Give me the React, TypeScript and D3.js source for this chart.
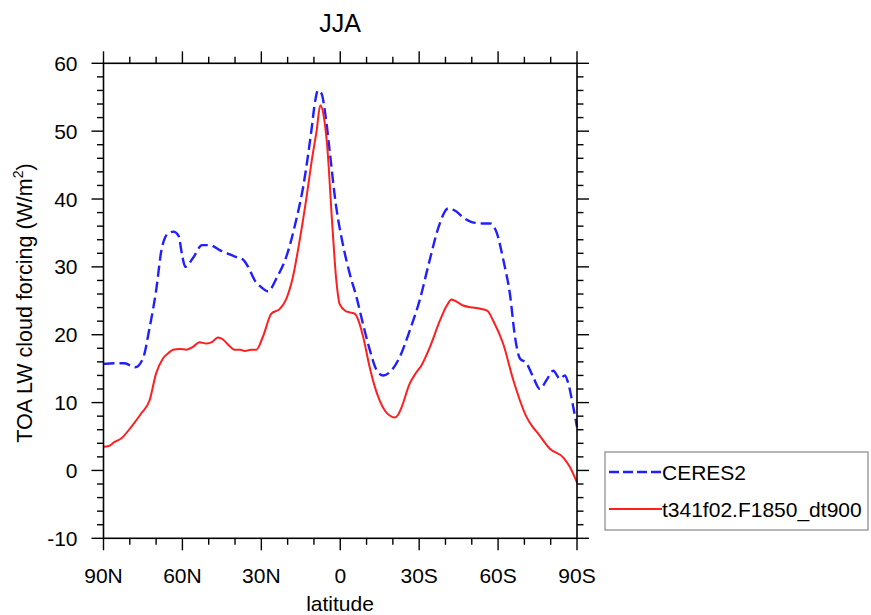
import React from "react";
import * as d3 from "d3";

const ceresLat = [90, 86, 82, 78, 75, 72.5, 70, 68, 66.5, 65, 63.4, 61.5, 60, 58.9, 56, 52.5, 49.5, 46, 43, 40, 37, 35, 32.5, 30, 27.5, 24, 20.5, 17, 14, 11, 9.5, 8.5, 7.2, 5.5, 4, 1.6, -0.9, -3.6, -6.2, -8.7, -11.2, -13.8, -16.3, -19.4, -22.6, -26.4, -30.2, -34, -37.5, -41, -44, -47, -50, -54, -57, -59.5, -62, -64.5, -66.5, -68.3, -70.8, -73.3, -75.9, -78.4, -81, -83.5, -85.4, -86.7, -88.5, -90];
const ceresVal = [15.7, 15.8, 15.8, 15.2, 16.5, 21, 26.5, 32.4, 34.4, 35.0, 35.2, 34.6, 31.5, 30.0, 31.3, 33.2, 33.2, 32.5, 32.0, 31.5, 31.1, 30.0, 28.0, 27.0, 26.4, 28.5, 31.5, 36.5, 42, 50, 54.5, 56, 55.6, 52, 47, 39, 33.5, 29, 25.5, 21.5, 17.8, 14.8, 14.0, 14.7, 16.7, 20.6, 25.1, 31, 36, 38.6, 38.2, 37.2, 36.6, 36.4, 36.4, 35, 31, 26, 19.5, 16.5, 15.8, 13.8, 12.0, 13.3, 14.7, 13.5, 14.0, 12.8, 9.5, 6.4];

const modelLat = [90, 88, 85.8, 83.3, 79.5, 75.7, 72.5, 70, 67.4, 65, 63.6, 61, 58.5, 56, 53.5, 50.9, 48.5, 46.5, 44.6, 42.5, 40.2, 38, 36.3, 34, 31.9, 29.4, 26.2, 23, 20.5, 18, 16.1, 13, 10.5, 9, 7.6, 6.2, 5, 3, 1.5, 0.2, -2, -3.6, -5.5, -7, -8.7, -11.2, -13, -15, -17, -18.8, -20.7, -22, -23.3, -26.4, -28.5, -30.9, -34.1, -37.9, -40.5, -42.3, -44.5, -46.7, -50.5, -53.7, -56, -58.1, -61.9, -65.8, -70.8, -73, -75.3, -79.7, -84.8, -87.3, -90];
const modelVal = [3.5, 3.6, 4.2, 4.7, 6.4, 8.4, 10.3, 14.3, 16.5, 17.4, 17.8, 17.9, 17.8, 18.2, 18.9, 18.7, 19.0, 19.6, 19.3, 18.5, 17.8, 17.8, 17.6, 17.8, 17.8, 19.7, 23.1, 23.8, 25.3, 28.5, 32.4, 39.8, 46.5, 50, 53.8, 52, 48, 36, 28, 24.5, 23.5, 23.3, 23.1, 22, 19.7, 15.2, 12.5, 10.3, 8.8, 8.1, 7.8, 8.2, 9.3, 12.8, 14.2, 15.5, 18.2, 22.1, 24.3, 25.2, 24.8, 24.3, 24.0, 23.8, 23.5, 22.1, 18.7, 13.3, 7.9, 6.5, 5.4, 3.2, 1.9, 0.5, -1.8];

const xTickVals = [90, 60, 30, 0, -30, -60, -90];
const xTickLabels = ["90N", "60N", "30N", "0", "30S", "60S", "90S"];
const yTickVals = [-10, 0, 10, 20, 30, 40, 50, 60];
const seriesNames = ["CERES2", "t341f02.F1850_dt900"];

const L = 103.5, R = 577, T = 63.3, B = 538.3;
const FONT = "'Liberation Sans', Arial, Helvetica, sans-serif";

export default function App() {
  const x = d3.scaleLinear().domain([90, -90]).range([L, R]);
  const y = d3.scaleLinear().domain([-10, 60]).range([B, T]);
  const line = d3.line<[number, number]>().x(d => x(d[0])).y(d => y(d[1])).curve(d3.curveMonotoneX);
  const ceres = ceresLat.map((l, i) => [l, ceresVal[i]] as [number, number]);
  const model = modelLat.map((l, i) => [l, modelVal[i]] as [number, number]);

  const xMinor = d3.range(90, -91, -10);
  const yMinor = d3.range(-10, 61, 2);
  const maj = 12, mnr = 6.5;

  return (
    <svg width={871} height={615} style={{ position: "absolute", left: 0, top: 0, background: "#fff" }}>
      <rect x={0} y={0} width={871} height={615} fill="#fff" />
      <text x={340} y={31.7} textAnchor="middle" fontFamily={FONT} fontSize={25}>JJA</text>

      <path d={line(ceres) || ""} fill="none" stroke="#1f1fff" strokeWidth={2.4} strokeDasharray="11 5" />
      <path d={line(model) || ""} fill="none" stroke="#ff1f1f" strokeWidth={2} />

      <g stroke="#000" strokeWidth={1.4}>
        {xMinor.map(v => {
          const isMaj = v % 30 === 0;
          const len = isMaj ? maj : mnr;
          return (
            <g key={"xt" + v}>
              <line x1={x(v)} x2={x(v)} y1={B} y2={B + len} />
              <line x1={x(v)} x2={x(v)} y1={T} y2={T - len} />
            </g>
          );
        })}
        {yMinor.map(v => {
          const isMaj = v % 10 === 0;
          const len = isMaj ? maj : mnr;
          return (
            <g key={"yt" + v}>
              <line x1={L} x2={L - len} y1={y(v)} y2={y(v)} />
              <line x1={R} x2={R + len} y1={y(v)} y2={y(v)} />
            </g>
          );
        })}
        <rect x={L} y={T} width={R - L} height={B - T} fill="none" strokeWidth={1.6} />
      </g>

      {xTickVals.map((v, i) => (
        <text key={"xl" + v} x={x(v)} y={582.7} textAnchor="middle" fontFamily={FONT} fontSize={21}>{xTickLabels[i]}</text>
      ))}
      {yTickVals.map(v => (
        <text key={"yl" + v} x={77.5} y={y(v)} dy="0.36em" textAnchor="end" fontFamily={FONT} fontSize={21}>{v}</text>
      ))}

      <text x={340} y={611} textAnchor="middle" fontFamily={FONT} fontSize={21}>latitude</text>
      <text transform="translate(32,303) rotate(-90)" textAnchor="middle" fontFamily={FONT} fontSize={21.5}>
        TOA LW cloud forcing (W/m<tspan fontSize={14} dy={-9}>2</tspan><tspan dy={9}>)</tspan>
      </text>

      <g>
        <rect x={605} y={452} width={263} height={78} fill="#fff" stroke="#888" strokeWidth={1.2} />
        <line x1={609} x2={662} y1={472} y2={472} stroke="#1f1fff" strokeWidth={2.4} strokeDasharray="10 4" />
        <line x1={609} x2={662} y1={509} y2={509} stroke="#ff1f1f" strokeWidth={2} />
        <text x={662} y={479.5} fontFamily={FONT} fontSize={21}>{seriesNames[0]}</text>
        <text x={662} y={516.5} fontFamily={FONT} fontSize={21}>{seriesNames[1]}</text>
      </g>
    </svg>
  );
}
